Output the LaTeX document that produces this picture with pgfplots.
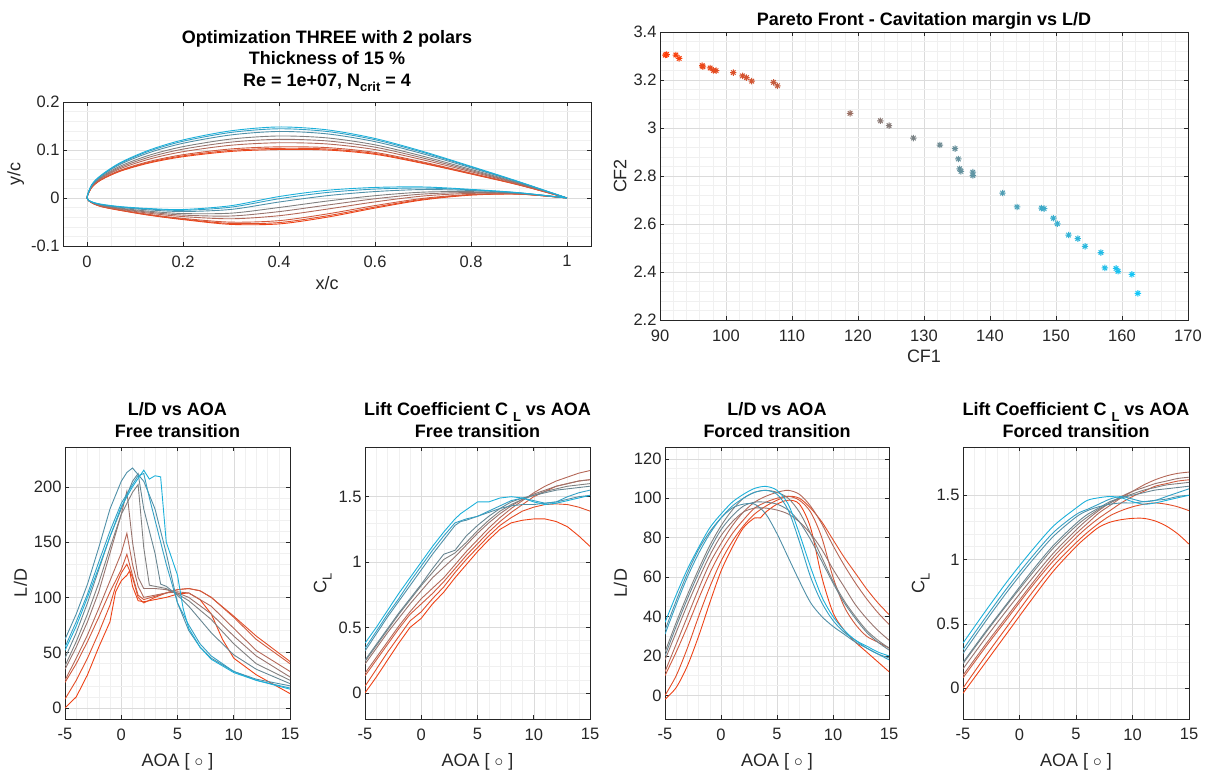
\documentclass[border=0pt]{standalone}
\usepackage{fontspec}
\setmainfont{Liberation Sans}
\usepackage{pgfplots}
\pgfplotsset{compat=1.18}

\definecolor{c0}{RGB}{238,66,22}
\definecolor{c1}{RGB}{226,78,40}
\definecolor{c2}{RGB}{208,90,62}
\definecolor{c3}{RGB}{180,104,88}
\definecolor{c4}{RGB}{152,116,110}
\definecolor{c5}{RGB}{128,128,128}
\definecolor{c6}{RGB}{104,134,146}
\definecolor{c7}{RGB}{80,144,168}
\definecolor{c8}{RGB}{52,160,196}
\definecolor{c9}{RGB}{28,176,218}

\pgfdeclareplotmark{mast}{%
  \pgfpathmoveto{\pgfqpoint{-\pgfplotmarksize}{0pt}}\pgfpathlineto{\pgfqpoint{\pgfplotmarksize}{0pt}}%
  \pgfpathmoveto{\pgfqpoint{0pt}{-\pgfplotmarksize}}\pgfpathlineto{\pgfqpoint{0pt}{\pgfplotmarksize}}%
  \pgfpathmoveto{\pgfqpoint{-.707\pgfplotmarksize}{-.707\pgfplotmarksize}}\pgfpathlineto{\pgfqpoint{.707\pgfplotmarksize}{.707\pgfplotmarksize}}%
  \pgfpathmoveto{\pgfqpoint{-.707\pgfplotmarksize}{.707\pgfplotmarksize}}\pgfpathlineto{\pgfqpoint{.707\pgfplotmarksize}{-.707\pgfplotmarksize}}%
  \pgfusepathqstroke}

\newcommand{\sub}[1]{\raisebox{-0.55ex}{\fontsize{13}{13}\selectfont #1}}

\pgfplotsset{
  mat/.style={
    scale only axis,
    axis line style={draw=black!85, line width=0.6pt},
    tick style={draw=black!85, line width=0.6pt},
    major tick length=4pt,
    minor tick length=0pt,
    tick align=inside,
    grid=both,
    major grid style={draw=black!14, line width=0.5pt},
    minor grid style={draw=black!6, line width=0.5pt},
    tick label style={font=\fontsize{16.5}{16.5}\selectfont, text=black!85},
    xticklabel style={yshift=-6pt},
    label style={font=\fontsize{18}{18}\selectfont, text=black!85},
    xlabel style={yshift=-2pt},
    title style={font=\bfseries\fontsize{18}{21.5}\selectfont, align=center},
    /pgf/number format/assume math mode=true,
  },
  af/.style={line width=0.9pt, smooth, tension=0.5},
  bl/.style={line width=0.9pt},
  bs/.style={line width=0.9pt, smooth, tension=0.5},
  bot/.style={mat, width=225pt, height=272pt, xmin=-5, xmax=15,
    xtick={-5,0,5,10,15}, minor x tick num=4,
    xlabel={AOA [ $\circ$ ]}, xlabel style={yshift=-4pt}},
}

\begin{document}
\begin{tikzpicture}
\useasboundingbox (0pt,0pt) rectangle (1210pt,772pt);

% ---------------- Airfoils ----------------
\begin{axis}[mat, at={(63pt,526pt)}, anchor=south west, width=528pt, height=144pt,
  xmin=-0.05, xmax=1.05, ymin=-0.1, ymax=0.2,
  xtick={0,0.2,0.4,0.6,0.8,1}, ytick={-0.1,0,0.1,0.2},
  minor x tick num=3, minor y tick num=4,
  xlabel={x/c}, ylabel={y/c},
  title={Optimization THREE with 2 polars\\Thickness of 15 \%\\Re = 1e+07, N\sub{crit} = 4},
  title style={yshift=1pt}]
\addplot[af, c0] coordinates {(1,0) (0.9,0.027) (0.8,0.050) (0.7,0.072) (0.6,0.091) (0.5,0.100) (0.4,0.101) (0.3,0.097) (0.2,0.086) (0.13,0.073) (0.07,0.056) (0.03,0.038) (0.01,0.022) (0,0)
 (0.01,-0.010) (0.03,-0.018) (0.07,-0.026) (0.13,-0.036) (0.2,-0.045) (0.3,-0.055) (0.4,-0.054) (0.5,-0.040) (0.6,-0.021) (0.7,-0.004) (0.8,0.006) (0.9,0.008) (1,0)};
\addplot[af, c1] coordinates {(1,0) (0.9,0.0274) (0.8,0.0508) (0.7,0.0733) (0.6,0.0927) (0.5,0.1021) (0.4,0.1034) (0.3,0.0992) (0.2,0.0878) (0.13,0.0744) (0.07,0.0569) (0.03,0.0385) (0.01,0.0223) (0,0)
 (0.01,-0.0099) (0.03,-0.0178) (0.07,-0.0256) (0.13,-0.0353) (0.2,-0.0440) (0.3,-0.0531) (0.4,-0.0512) (0.5,-0.0372) (0.6,-0.0189) (0.7,-0.0027) (0.8,0.0066) (0.9,0.0082) (1,0)};
\addplot[af, c2] coordinates {(1,0) (0.9,0.0278) (0.8,0.0519) (0.7,0.0750) (0.6,0.0950) (0.5,0.1050) (0.4,0.1066) (0.3,0.1022) (0.2,0.0902) (0.13,0.0762) (0.07,0.0582) (0.03,0.0392) (0.01,0.0227) (0,0)
 (0.01,-0.0098) (0.03,-0.0174) (0.07,-0.0250) (0.13,-0.0343) (0.2,-0.0425) (0.3,-0.0503) (0.4,-0.0472) (0.5,-0.0333) (0.6,-0.0158) (0.7,-0.0008) (0.8,0.0074) (0.9,0.0084) (1,0)};
\addplot[af, c3] coordinates {(1,0) (0.9,0.0291) (0.8,0.0548) (0.7,0.0795) (0.6,0.1009) (0.5,0.1126) (0.4,0.1151) (0.3,0.1099) (0.2,0.0965) (0.13,0.0811) (0.07,0.0614) (0.03,0.0410) (0.01,0.0238) (0,0)
 (0.01,-0.0094) (0.03,-0.0165) (0.07,-0.0236) (0.13,-0.0318) (0.2,-0.0387) (0.3,-0.0433) (0.4,-0.0369) (0.5,-0.0232) (0.6,-0.0081) (0.7,0.0041) (0.8,0.0096) (0.9,0.0089) (1,0)};
\addplot[af, c4] coordinates {(1,0) (0.9,0.0302) (0.8,0.0572) (0.7,0.0833) (0.6,0.1059) (0.5,0.1189) (0.4,0.1222) (0.3,0.1164) (0.2,0.1018) (0.13,0.0852) (0.07,0.0641) (0.03,0.0425) (0.01,0.0247) (0,0)
 (0.01,-0.0091) (0.03,-0.0158) (0.07,-0.0224) (0.13,-0.0297) (0.2,-0.0356) (0.3,-0.0375) (0.4,-0.0284) (0.5,-0.0148) (0.6,-0.0016) (0.7,0.0082) (0.8,0.0114) (0.9,0.0094) (1,0)};
\addplot[af, c5] coordinates {(1,0) (0.9,0.0312) (0.8,0.0596) (0.7,0.0870) (0.6,0.1108) (0.5,0.1252) (0.4,0.1292) (0.3,0.1228) (0.2,0.1070) (0.13,0.0892) (0.07,0.0668) (0.03,0.0440) (0.01,0.0256) (0,0)
 (0.01,-0.0088) (0.03,-0.0150) (0.07,-0.0212) (0.13,-0.0276) (0.2,-0.0324) (0.3,-0.0316) (0.4,-0.0198) (0.5,-0.0064) (0.6,0.0048) (0.7,0.0122) (0.8,0.0132) (0.9,0.0098) (1,0)};
\addplot[af, c7] coordinates {(1,0) (0.9,0.0326) (0.8,0.0628) (0.7,0.0920) (0.6,0.1174) (0.5,0.1336) (0.4,0.1386) (0.3,0.1314) (0.2,0.1140) (0.13,0.0946) (0.07,0.0704) (0.03,0.0460) (0.01,0.0268) (0,0)
 (0.01,-0.0084) (0.03,-0.0140) (0.07,-0.0196) (0.13,-0.0248) (0.2,-0.0282) (0.3,-0.0238) (0.4,-0.0084) (0.5,0.0048) (0.6,0.0134) (0.7,0.0176) (0.8,0.0156) (0.9,0.0104) (1,0)};
\addplot[af, c8] coordinates {(1,0) (0.9,0.0334) (0.8,0.0647) (0.7,0.0950) (0.6,0.1214) (0.5,0.1386) (0.4,0.1442) (0.3,0.1366) (0.2,0.1182) (0.13,0.0978) (0.07,0.0726) (0.03,0.0472) (0.01,0.0275) (0,0)
 (0.01,-0.0082) (0.03,-0.0134) (0.07,-0.0186) (0.13,-0.0231) (0.2,-0.0257) (0.3,-0.0191) (0.4,-0.0016) (0.5,0.0115) (0.6,0.0186) (0.7,0.0208) (0.8,0.0170) (0.9,0.0108) (1,0)};
\addplot[af, c9] coordinates {(1,0) (0.9,0.034) (0.8,0.066) (0.7,0.097) (0.6,0.124) (0.5,0.142) (0.4,0.148) (0.3,0.140) (0.2,0.121) (0.13,0.100) (0.07,0.074) (0.03,0.048) (0.01,0.028) (0,0)
 (0.01,-0.008) (0.03,-0.013) (0.07,-0.018) (0.13,-0.022) (0.2,-0.024) (0.3,-0.016) (0.4,0.003) (0.5,0.016) (0.6,0.022) (0.7,0.023) (0.8,0.018) (0.9,0.011) (1,0)};
\end{axis}

% ---------------- Pareto ----------------
\begin{axis}[mat, at={(660pt,452pt)}, anchor=south west, width=528pt, height=288pt,
  xmin=90, xmax=170, ymin=2.2, ymax=3.4,
  xtick={90,100,...,170}, ytick={2.2,2.4,2.6,2.8,3,3.2,3.4},
  minor x tick num=4, minor y tick num=4,
  xlabel={CF1}, ylabel={CF2},
  title={Pareto Front - Cavitation margin vs L/D}, title style={yshift=-7pt},
  colormap={rc}{rgb255=(255,62,8) rgb255=(128,128,128) rgb255=(18,200,250)},
  point meta min=91, point meta max=162.5]
\addplot[scatter, only marks, mark=mast, mark size=3.2pt, line width=1pt, point meta=x,
  scatter/use mapped color={draw=mapped color, fill=mapped color}] coordinates {
(90.8,3.304) (91.0,3.306) (92.4,3.304) (92.9,3.290) (96.4,3.260) (96.5,3.255) (97.6,3.250) (98.1,3.240) (98.5,3.239)
(101.1,3.231) (102.5,3.217) (103.1,3.210) (103.9,3.195) (107.2,3.190) (107.8,3.176)
(118.8,3.061) (123.4,3.030) (124.7,3.010) (128.4,2.958) (132.4,2.929) (134.7,2.914)
(135.2,2.871) (135.4,2.830) (135.6,2.819) (137.4,2.816) (137.4,2.802)
(141.9,2.729) (144.1,2.671) (147.8,2.666) (148.2,2.664) (149.6,2.624) (150.2,2.601)
(151.9,2.554) (153.3,2.539) (154.4,2.507) (156.8,2.481) (157.4,2.417) (159.1,2.415)
(159.4,2.403) (161.5,2.390) (162.4,2.311)};
\end{axis}

% ---------------- L/D free ----------------
\begin{axis}[bot, at={(65pt,53pt)}, anchor=south west,
  ymin=-10, ymax=236, ytick={0,50,100,150,200}, minor y tick num=4,
  ylabel={L/D}, title={L/D vs AOA\\Free transition}]
\addplot[bl, c0] coordinates {(-5,0) (-4,10) (-3,30) (-2,55) (-1,78) (-0.5,105) (0,115) (0.5,120) (0.75,124) (1,110) (1.5,97) (2,96) (3,98) (4,100) (5,103) (6,104) (7,98) (8,85) (9,62) (10,45) (12,30) (15,13)};
\addplot[bl, c1] coordinates {(-5,8) (-4,25) (-3,45) (-2,68) (-1,93) (-0.5,110) (0,122) (0.5,130) (1,118) (1.5,100) (2,95) (3,100) (4,104) (5,107) (6,108) (7,106) (8,100) (10,83) (12,65) (15,42)};
\addplot[bl, c2] coordinates {(-5,23) (-4,40) (-3,60) (-2,82) (-1,105) (0,125) (0.5,139) (1,120) (1.5,102) (2,98) (3,101) (4,104) (5,107) (6,108) (7,106) (8,100) (10,82) (12,62) (15,40)};
\addplot[bl, c3] coordinates {(-5,25) (-4,45) (-3,66) (-2,90) (-1,115) (0,140) (0.5,158) (1,130) (1.5,110) (2,100) (3,102) (4,104) (5,105) (6,104) (8,92) (10,72) (12,52) (15,33)};
\addplot[bl, c4] coordinates {(-5,35) (-4,55) (-3,78) (-2,105) (-1,140) (0,175) (0.5,196) (1,150) (1.5,118) (2,108) (3,108) (4,107) (5,104) (6,100) (8,85) (10,65) (12,47) (15,28)};
\addplot[bl, c5] coordinates {(-5,38) (-4,60) (-3,85) (-2,113) (-1,145) (0,175) (1,195) (1.5,202) (2,145) (2.5,111) (3,110) (4,108) (5,103) (6,97) (8,80) (10,58) (12,40) (15,25)};
\addplot[bl, c6] coordinates {(-5,45) (-4,68) (-3,95) (-2,125) (-1,155) (0,180) (1,205) (1.5,212) (2,180) (3,140) (3.5,112) (4,110) (5,102) (6,92) (8,68) (10,48) (12,35) (15,22)};
\addplot[bl, c7] coordinates {(-5,62) (-4,85) (-3,112) (-2,145) (-1,180) (0,205) (0.5,213) (1,217) (2,205) (3,180) (4,140) (5,95) (6,70) (7,55) (8,45) (10,33) (12,26) (15,20)};
\addplot[bl, c8] coordinates {(-5,55) (-4,78) (-3,103) (-2,132) (-1,160) (0,185) (1,202) (1.5,210) (2,212) (2.5,190) (3,170) (4,130) (5,95) (6,75) (7,58) (8,47) (10,33) (12,25) (15,18)};
\addplot[bl, c9] coordinates {(-5,52) (-4,74) (-3,100) (-2,127) (-1,155) (0,182) (1,200) (2,215) (2.5,207) (3,210) (3.5,209) (4,150) (5,120) (5.5,90) (6,72) (7,55) (8,44) (10,32) (12,25) (15,17)};
\end{axis}

% ---------------- CL free ----------------
\begin{axis}[bot, at={(365pt,53pt)}, anchor=south west,
  ymin=-0.2, ymax=1.88, ytick={0,0.5,1,1.5}, minor y tick num=4,
  ylabel={C\sub{L}}, title={Lift Coefficient C \sub{L} vs AOA\\Free transition}]
\addplot[bl, c0] coordinates {(-5,0) (-4,0.12) (-3,0.25) (-2,0.38) (-1,0.5) (0,0.57) (1,0.68) (2,0.77) (3,0.88) (4,0.98) (5,1.08) (6,1.17) (7,1.25) (8,1.30) (9,1.32) (10,1.33) (11,1.33) (12,1.31) (13,1.27) (14,1.2) (15,1.12)};
\addplot[bl, c1] coordinates {(-5,0.05) (-4,0.18) (-3,0.31) (-2,0.43) (-1,0.55) (0,0.62) (1,0.72) (2,0.81) (3,0.92) (4,1.02) (5,1.11) (6,1.2) (7,1.28) (8,1.34) (9,1.39) (10,1.42) (11,1.44) (12,1.445) (13,1.44) (14,1.42) (15,1.39)};
\addplot[bl, c2] coordinates {(-5,0.13) (-4,0.25) (-3,0.37) (-2,0.49) (-1,0.6) (0,0.68) (1,0.76) (2,0.85) (3,0.95) (4,1.05) (5,1.14) (6,1.23) (7,1.31) (8,1.38) (9,1.44) (10,1.5) (11,1.54) (12,1.58) (13,1.6) (14,1.62) (15,1.63)};
\addplot[bl, c3] coordinates {(-5,0.15) (-4,0.27) (-3,0.39) (-2,0.51) (-1,0.62) (0,0.72) (1,0.8) (2,0.88) (3,0.98) (4,1.08) (5,1.17) (6,1.26) (7,1.34) (8,1.41) (9,1.47) (10,1.53) (11,1.58) (12,1.62) (13,1.65) (14,1.68) (15,1.7)};
\addplot[bl, c4] coordinates {(-5,0.22) (-4,0.34) (-3,0.46) (-2,0.57) (-1,0.68) (0,0.78) (1,0.88) (2,0.96) (3,1.04) (4,1.13) (5,1.22) (6,1.3) (7,1.37) (8,1.43) (9,1.48) (10,1.52) (11,1.55) (12,1.58) (13,1.6) (14,1.62) (15,1.63)};
\addplot[bl, c5] coordinates {(-5,0.24) (-4,0.36) (-3,0.48) (-2,0.6) (-1,0.71) (0,0.82) (1,0.92) (2,1.02) (3,1.07) (4,1.15) (5,1.24) (6,1.32) (7,1.39) (8,1.44) (9,1.48) (10,1.51) (11,1.54) (12,1.56) (13,1.58) (14,1.59) (15,1.6)};
\addplot[bl, c6] coordinates {(-5,0.25) (-4,0.37) (-3,0.49) (-2,0.61) (-1,0.72) (0,0.83) (1,0.95) (2,1.06) (3,1.09) (4,1.2) (5,1.28) (6,1.35) (7,1.41) (8,1.46) (9,1.49) (10,1.51) (11,1.53) (12,1.55) (13,1.56) (14,1.57) (15,1.58)};
\addplot[bl, c7] coordinates {(-5,0.32) (-4,0.45) (-3,0.58) (-2,0.7) (-1,0.82) (0,0.94) (1,1.06) (2,1.17) (3,1.28) (3.5,1.31) (4,1.32) (5,1.35) (6,1.38) (7,1.41) (8,1.43) (9,1.44) (10,1.44) (11,1.45) (12,1.46) (13,1.48) (14,1.5) (15,1.51)};
\addplot[bl, c8] coordinates {(-5,0.34) (-4,0.47) (-3,0.6) (-2,0.72) (-1,0.85) (0,0.97) (1,1.09) (2,1.2) (3,1.3) (4,1.33) (5,1.35) (6,1.39) (7,1.43) (8,1.47) (9,1.49) (10,1.47) (11,1.45) (12,1.46) (13,1.5) (14,1.53) (15,1.55)};
\addplot[bl, c9] coordinates {(-5,0.38) (-4,0.5) (-3,0.63) (-2,0.76) (-1,0.88) (0,1.0) (1,1.12) (2,1.23) (3,1.33) (3.5,1.37) (4,1.4) (5,1.46) (6,1.46) (7,1.49) (8,1.5) (9,1.49) (10,1.46) (11,1.44) (12,1.45) (13,1.47) (14,1.49) (15,1.51)};
\end{axis}

% ---------------- L/D forced ----------------
\begin{axis}[bot, at={(665pt,53pt)}, anchor=south west, width=224pt,
  ymin=-12, ymax=126, ytick={0,20,40,60,80,100,120}, minor y tick num=3,
  ylabel={L/D}, title={L/D vs AOA\\Forced transition}]
\addplot[bs, c0] coordinates {(-5,-2) (-4,4) (-3,15) (-2,30) (-1,47) (0,63) (1,75) (2,85) (3,90) (3.5,90) (4,93) (5,97) (6,99) (7,97) (8,85) (9,60) (10,42) (11,33) (12,27) (13,22) (14,17) (15,12)};
\addplot[bs, c1] coordinates {(-5,0) (-4,10) (-3,24) (-2,40) (-1,55) (0,68) (1,78) (2,86) (3,92) (4,96) (5,99) (6,101) (7,100) (8,95) (9,88) (10,79) (11,70) (12,62) (13,54) (14,47) (15,41)};
\addplot[bs, c2] coordinates {(-5,10) (-4,22) (-3,35) (-2,49) (-1,62) (0,73) (1,82) (2,89) (3,95) (4,98) (5,100) (6,101) (7,99) (8,93) (9,80) (10,60) (11,45) (12,36) (13,30) (14,27) (15,24)};
\addplot[bs, c3] coordinates {(-5,12) (-4,26) (-3,40) (-2,54) (-1,67) (0,77) (1,86) (2,93) (3,98) (4,101) (5,103) (6,104) (7,102) (8,96) (9,87) (10,76) (11,66) (12,57) (13,49) (14,42) (15,36)};
\addplot[bs, c4] coordinates {(-5,18) (-4,32) (-3,46) (-2,59) (-1,71) (0,81) (1,88) (2,93) (3,95) (4,95) (5,94) (6,92) (7,88) (8,82) (9,74) (10,64) (11,55) (12,46) (13,39) (14,33) (15,28)};
\addplot[bs, c5] coordinates {(-5,22) (-4,37) (-3,51) (-2,64) (-1,76) (0,86) (1,94) (2,100) (3,103) (4,104) (5,103) (6,100) (7,93) (8,82) (9,70) (10,58) (11,48) (12,40) (13,33) (14,28) (15,24)};
\addplot[bs, c6] coordinates {(-5,20) (-4,35) (-3,49) (-2,62) (-1,74) (0,84) (1,91) (2,96) (3,98) (4,98) (5,97) (6,94) (7,88) (8,79) (9,68) (10,57) (11,47) (12,39) (13,32) (14,27) (15,23)};
\addplot[bs, c7] coordinates {(-5,33) (-4,48) (-3,62) (-2,74) (-1,83) (0,90) (1,95) (2,97) (3,97) (4,92) (5,82) (6,70) (7,58) (8,47) (9,40) (10,35) (11,31) (12,27) (13,24) (14,21) (15,19)};
\addplot[bs, c8] coordinates {(-5,31) (-4,46) (-3,60) (-2,72) (-1,82) (0,90) (1,96) (2,100) (3,103) (4,104) (5,102) (6,94) (7,78) (8,60) (9,47) (10,38) (11,32) (12,28) (13,24) (14,21) (15,18)};
\addplot[bs, c9] coordinates {(-5,37) (-4,51) (-3,64) (-2,75) (-1,85) (0,92) (1,98) (2,102) (3,105) (4,106) (5,104) (6,97) (7,82) (8,65) (9,50) (10,40) (11,33) (12,28) (13,25) (14,22) (15,20)};
\end{axis}

% ---------------- CL forced ----------------
\begin{axis}[bot, at={(963pt,53pt)}, anchor=south west, width=226pt,
  ymin=-0.24, ymax=1.875, ytick={0,0.5,1,1.5}, minor y tick num=4,
  ylabel={C\sub{L}}, title={Lift Coefficient C \sub{L} vs AOA\\Forced transition}]
\addplot[bs, c0] coordinates {(-5,-0.04) (-3,0.2) (-1,0.44) (1,0.68) (3,0.91) (5,1.1) (6,1.18) (7,1.25) (8,1.29) (9,1.31) (10,1.32) (11,1.32) (12,1.3) (13,1.26) (14,1.2) (15,1.12)};
\addplot[bs, c1] coordinates {(-5,0.0) (-3,0.25) (-1,0.49) (1,0.73) (3,0.95) (5,1.13) (6,1.21) (7,1.28) (8,1.34) (9,1.38) (10,1.41) (11,1.43) (12,1.44) (13,1.43) (14,1.41) (15,1.38)};
\addplot[bs, c2] coordinates {(-5,0.08) (-3,0.32) (-1,0.55) (1,0.78) (3,0.99) (5,1.17) (6,1.25) (7,1.32) (8,1.38) (9,1.44) (10,1.49) (11,1.53) (12,1.57) (13,1.59) (14,1.61) (15,1.62)};
\addplot[bs, c3] coordinates {(-5,0.1) (-3,0.34) (-1,0.57) (1,0.8) (3,1.02) (5,1.2) (6,1.28) (7,1.36) (8,1.42) (9,1.48) (10,1.53) (11,1.58) (12,1.62) (13,1.65) (14,1.67) (15,1.68)};
\addplot[bs, c4] coordinates {(-5,0.15) (-3,0.39) (-1,0.62) (1,0.84) (3,1.05) (5,1.23) (6,1.31) (7,1.38) (8,1.44) (9,1.49) (10,1.53) (11,1.56) (12,1.59) (13,1.61) (14,1.63) (15,1.64)};
\addplot[bs, c5] coordinates {(-5,0.19) (-3,0.43) (-1,0.66) (1,0.88) (3,1.09) (5,1.26) (6,1.33) (7,1.39) (8,1.44) (9,1.48) (10,1.51) (11,1.54) (12,1.56) (13,1.58) (14,1.59) (15,1.6)};
\addplot[bs, c6] coordinates {(-5,0.2) (-3,0.44) (-1,0.67) (1,0.9) (3,1.11) (5,1.28) (6,1.35) (7,1.4) (8,1.45) (9,1.48) (10,1.5) (11,1.52) (12,1.54) (13,1.55) (14,1.56) (15,1.57)};
\addplot[bs, c7] coordinates {(-5,0.27) (-3,0.52) (-1,0.76) (1,0.98) (3,1.18) (5,1.33) (6,1.38) (7,1.41) (8,1.43) (9,1.44) (10,1.44) (11,1.45) (12,1.46) (13,1.47) (14,1.49) (15,1.5)};
\addplot[bs, c8] coordinates {(-5,0.3) (-3,0.55) (-1,0.79) (1,1.01) (3,1.21) (5,1.35) (6,1.39) (7,1.43) (8,1.47) (9,1.49) (10,1.47) (11,1.45) (12,1.46) (13,1.49) (14,1.52) (15,1.55)};
\addplot[bs, c9] coordinates {(-5,0.35) (-3,0.6) (-1,0.84) (1,1.06) (3,1.26) (5,1.4) (6,1.46) (7,1.48) (8,1.49) (9,1.48) (10,1.45) (11,1.43) (12,1.44) (13,1.46) (14,1.48) (15,1.5)};
\end{axis}
\end{tikzpicture}
\end{document}
